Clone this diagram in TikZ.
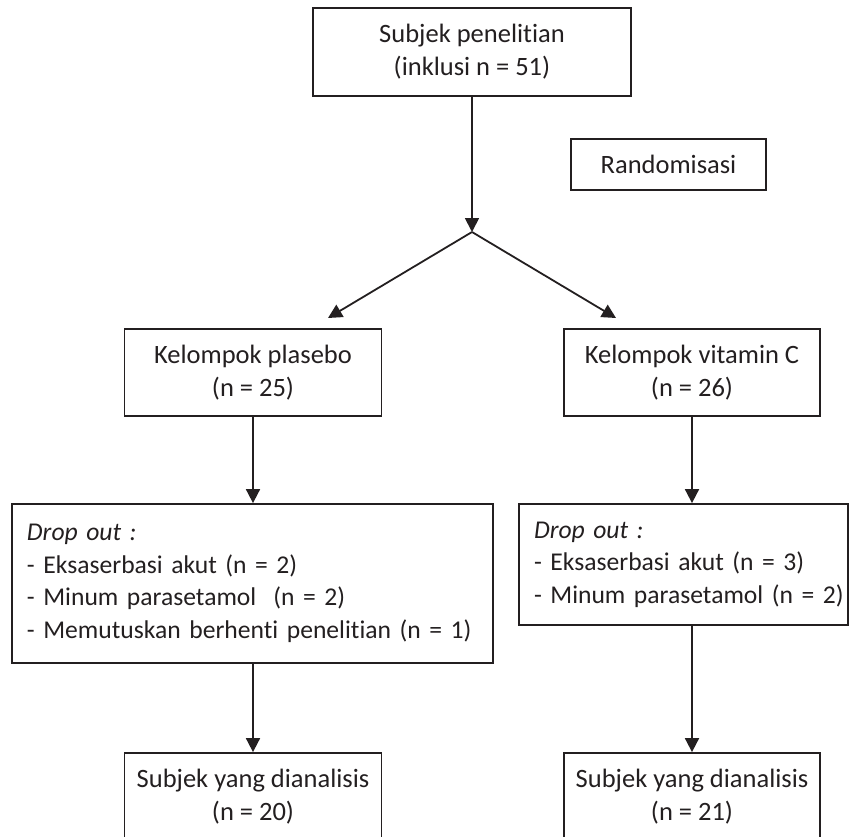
\documentclass[tikz,border=0pt]{standalone}
\usepackage{fontspec}
\setmainfont{Carlito}[Ligatures={NoCommon,NoRequired,NoContextual}]
\usetikzlibrary{arrows.meta,calc}
\definecolor{ink}{HTML}{231F20}
\begin{document}
\begin{tikzpicture}[x=1pt,y=-1pt,
  box/.style={draw=ink,line width=1.8pt,text=ink,inner sep=0pt,align=center,
    font=\fontsize{26.5}{33}\selectfont},
  listbox/.style={box,align=left,inner xsep=15pt,font=\fontsize{25.6}{32.5}\selectfont},
  arr/.style={draw=ink,line width=1.8pt,-{Triangle[length=14pt,width=14pt]}}]
\useasboundingbox (0,0) rectangle (851,836);
\node[box,minimum width=318pt,minimum height=88pt] (top) at (472,52)
  {Subjek penelitian\\(inklusi n = 51)};
\node[box,minimum width=195pt,minimum height=51pt] (rand) at (668.5,164.5) {Randomisasi};
\coordinate (apex) at (472,232);
\coordinate (plt) at (328,318);
\coordinate (vct) at (616,318);
\node[box,minimum width=257pt,minimum height=87pt] (pl) at (253,372.5)
  {Kelompok plasebo\\(n = 25)};
\node[box,minimum width=256pt,minimum height=87pt] (vc) at (692,372.5)
  {Kelompok vitamin C\\(n = 26)};
\node[listbox,text width=451pt,minimum height=159pt] (dl) at (252.5,583.5)
  {\mbox{\textit{Drop out :}}\\\mbox{- Eksaserbasi akut (n = 2)}\\\mbox{- Minum parasetamol\ \ (n = 2)}\\\mbox{- Memutuskan berhenti penelitian (n = 1)}};
\node[listbox,text width=299pt,minimum height=121pt] (dr) at (683.5,564.5)
  {\mbox{\textit{Drop out :}}\\\mbox{- Eksaserbasi akut (n = 3)}\\\mbox{- Minum parasetamol (n = 2)}};
\node[box,minimum width=257pt,minimum height=87pt] (bl) at (253,796.5)
  {Subjek yang dianalisis\\(n = 20)};
\node[box,minimum width=256pt,minimum height=87pt] (br) at (692,796.5)
  {Subjek yang dianalisis\\(n = 21)};
\draw[arr] (top.south) -- (apex);
\draw[arr] (apex) -- (plt);
\draw[arr] (apex) -- (vct);
\draw[arr] (pl.south) -- (pl.south |- dl.north);
\draw[arr] (vc.south) -- (vc.south |- dr.north);
\draw[arr] (dl.south -| bl.north) -- (bl.north);
\draw[arr] (dr.south -| br.north) -- (br.north);
\end{tikzpicture}
\end{document}
